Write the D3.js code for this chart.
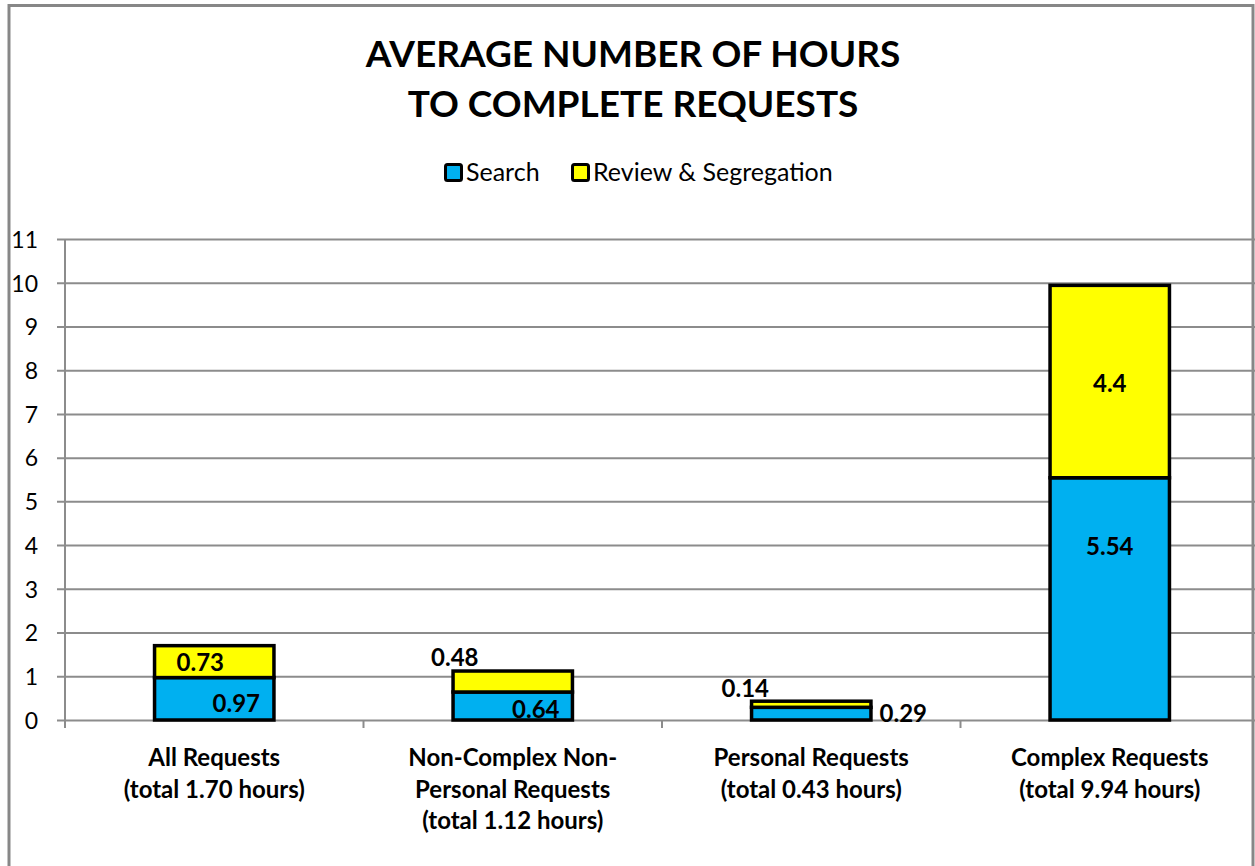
<!doctype html>
<html>
<head>
  <script src="https://d3js.org/d3.v7.min.js"></script>
</head>
<style>
  body {
    margin: 0;
    background: #fff;
  }

  svg text {
    font-family: Lato, "Open Sans", sans-serif;
    fill: black;
  }
</style>
<body>
<svg></svg>

<script>
  // data
  const categories = ["All Requests", "Non-Complex Non-Personal Requests", "Personal Requests", "Complex Requests"];
  const categoryLines = [
    ["All Requests", "(total 1.70 hours)"],
    ["Non-Complex Non-", "Personal Requests", "(total 1.12 hours)"],
    ["Personal Requests", "(total 0.43 hours)"],
    ["Complex Requests", "(total 9.94 hours)"]
  ];
  const seriesNames = ["Search", "Review & Segregation"];
  const searchValues = [0.97, 0.64, 0.29, 5.54];
  const reviewValues = [0.73, 0.48, 0.14, 4.4];
  const yTicks = [0, 1, 2, 3, 4, 5, 6, 7, 8, 9, 10, 11];

  // label nudges (px) from each segment's centre, as placed in the original
  const searchLabelShift = [[22, 5], [23, 3], [92, 0], [0, -53]];
  const reviewLabelShift = [[-14, 1], [-58, -24], [-66, -16], [0, 2]];

  const width = 1255, height = 866;
  const colors = ["#00b0f0", "#ffff00"];
  const plotLeft = 65, plotRight = 1259, plotTop = 239, plotBottom = 720;

  const svg = d3.select("svg")
    .attr("width", width)
    .attr("height", height);

  const rows = categories.map(function (c, i) {
    return { cat: c, search: searchValues[i], review: reviewValues[i] };
  });
  const stack = d3.stack().keys(["search", "review"])(rows);

  const x = d3.scaleBand()
    .domain(categories)
    .range([plotLeft, plotRight])
    .paddingInner(0.6)
    .paddingOuter(0.3);
  const y = d3.scaleLinear()
    .domain([0, 11])
    .range([plotBottom, plotTop]);

  // frame
  svg.append("rect")
    .attr("x", 9)
    .attr("y", 5.5)
    .attr("width", 1244)
    .attr("height", 880)
    .attr("fill", "none")
    .attr("stroke", "#878787")
    .attr("stroke-width", 3);

  // title
  svg.append("text")
    .attr("text-anchor", "middle")
    .style("font-size", "37px")
    .style("font-weight", "bold")
    .selectAll("tspan")
    .data(["AVERAGE NUMBER OF HOURS", "TO COMPLETE REQUESTS"])
    .join("tspan")
    .attr("x", 633)
    .attr("y", function (d, i) { return 67 + i * 50; })
    .text(function (d) { return d; });

  // legend
  const legendX = [444, 571];
  const legend = svg.append("g");
  seriesNames.forEach(function (name, i) {
    legend.append("rect")
      .attr("x", legendX[i] + 1.5)
      .attr("y", 164.5)
      .attr("width", 16)
      .attr("height", 16)
      .attr("rx", 2)
      .attr("fill", colors[i])
      .attr("stroke", "black")
      .attr("stroke-width", 3);
    legend.append("text")
      .attr("x", legendX[i] + 22)
      .attr("y", 181)
      .style("font-size", "25px")
      .text(name);
  });

  // gridlines + y axis
  const yAxis = d3.axisLeft(y)
    .tickValues(yTicks)
    .tickSize(-(plotRight - plotLeft))
    .tickPadding(27)
    .tickFormat(d3.format("d"));
  const gy = svg.append("g")
    .attr("transform", `translate(${plotLeft}, 0)`)
    .call(yAxis);
  gy.select(".domain").remove();
  gy.selectAll(".tick line")
    .attr("x1", -8)
    .attr("stroke", "#8c8c8c")
    .attr("stroke-width", 2);
  gy.selectAll(".tick text")
    .style("font-size", "23px")
    .style("font-family", "Lato, sans-serif")
    .attr("dy", "0.36em");

  svg.append("line")
    .attr("x1", plotLeft).attr("x2", plotLeft)
    .attr("y1", plotTop).attr("y2", plotBottom + 8)
    .attr("stroke", "#8c8c8c")
    .attr("stroke-width", 2);

  // category separators on the x axis
  const gap = (x.step() - x.bandwidth()) / 2;
  svg.append("g")
    .selectAll("line")
    .data(categories.slice(1))
    .join("line")
    .attr("x1", function (d) { return x(d) - gap; })
    .attr("x2", function (d) { return x(d) - gap; })
    .attr("y1", plotBottom)
    .attr("y2", plotBottom + 8)
    .attr("stroke", "#8c8c8c")
    .attr("stroke-width", 2);

  const xLabels = svg.append("g");
  categories.forEach(function (c, i) {
    const t = xLabels.append("text")
      .attr("text-anchor", "middle")
      .style("font-size", "24px")
      .style("font-weight", "bold");
    categoryLines[i].forEach(function (line, j) {
      t.append("tspan")
        .attr("x", x(c) + x.bandwidth() / 2)
        .attr("y", 766 + j * 31.5)
        .text(line);
    });
  });

  // bars
  svg.append("g")
    .selectAll("g")
    .data(stack)
    .join("g")
    .attr("fill", function (d, i) { return colors[i]; })
    .selectAll("rect")
    .data(function (d) { return d; })
    .join("rect")
    .attr("x", function (d) { return x(d.data.cat); })
    .attr("y", function (d) { return y(d[1]); })
    .attr("width", x.bandwidth())
    .attr("height", function (d) { return y(d[0]) - y(d[1]); })
    .attr("stroke", "black")
    .attr("stroke-width", 3.5);

  // value labels
  const shifts = [searchLabelShift, reviewLabelShift];
  const values = [searchValues, reviewValues];
  stack.forEach(function (series, s) {
    svg.append("g")
      .selectAll("text")
      .data(series)
      .join("text")
      .attr("text-anchor", "middle")
      .attr("dy", "0.36em")
      .style("font-size", "24px")
      .style("font-weight", "bold")
      .attr("x", function (d, i) { return x(d.data.cat) + x.bandwidth() / 2 + shifts[s][i][0]; })
      .attr("y", function (d, i) { return (y(d[0]) + y(d[1])) / 2 + shifts[s][i][1]; })
      .text(function (d, i) { return String(values[s][i]); });
  });
</script>
</body>
</html>
